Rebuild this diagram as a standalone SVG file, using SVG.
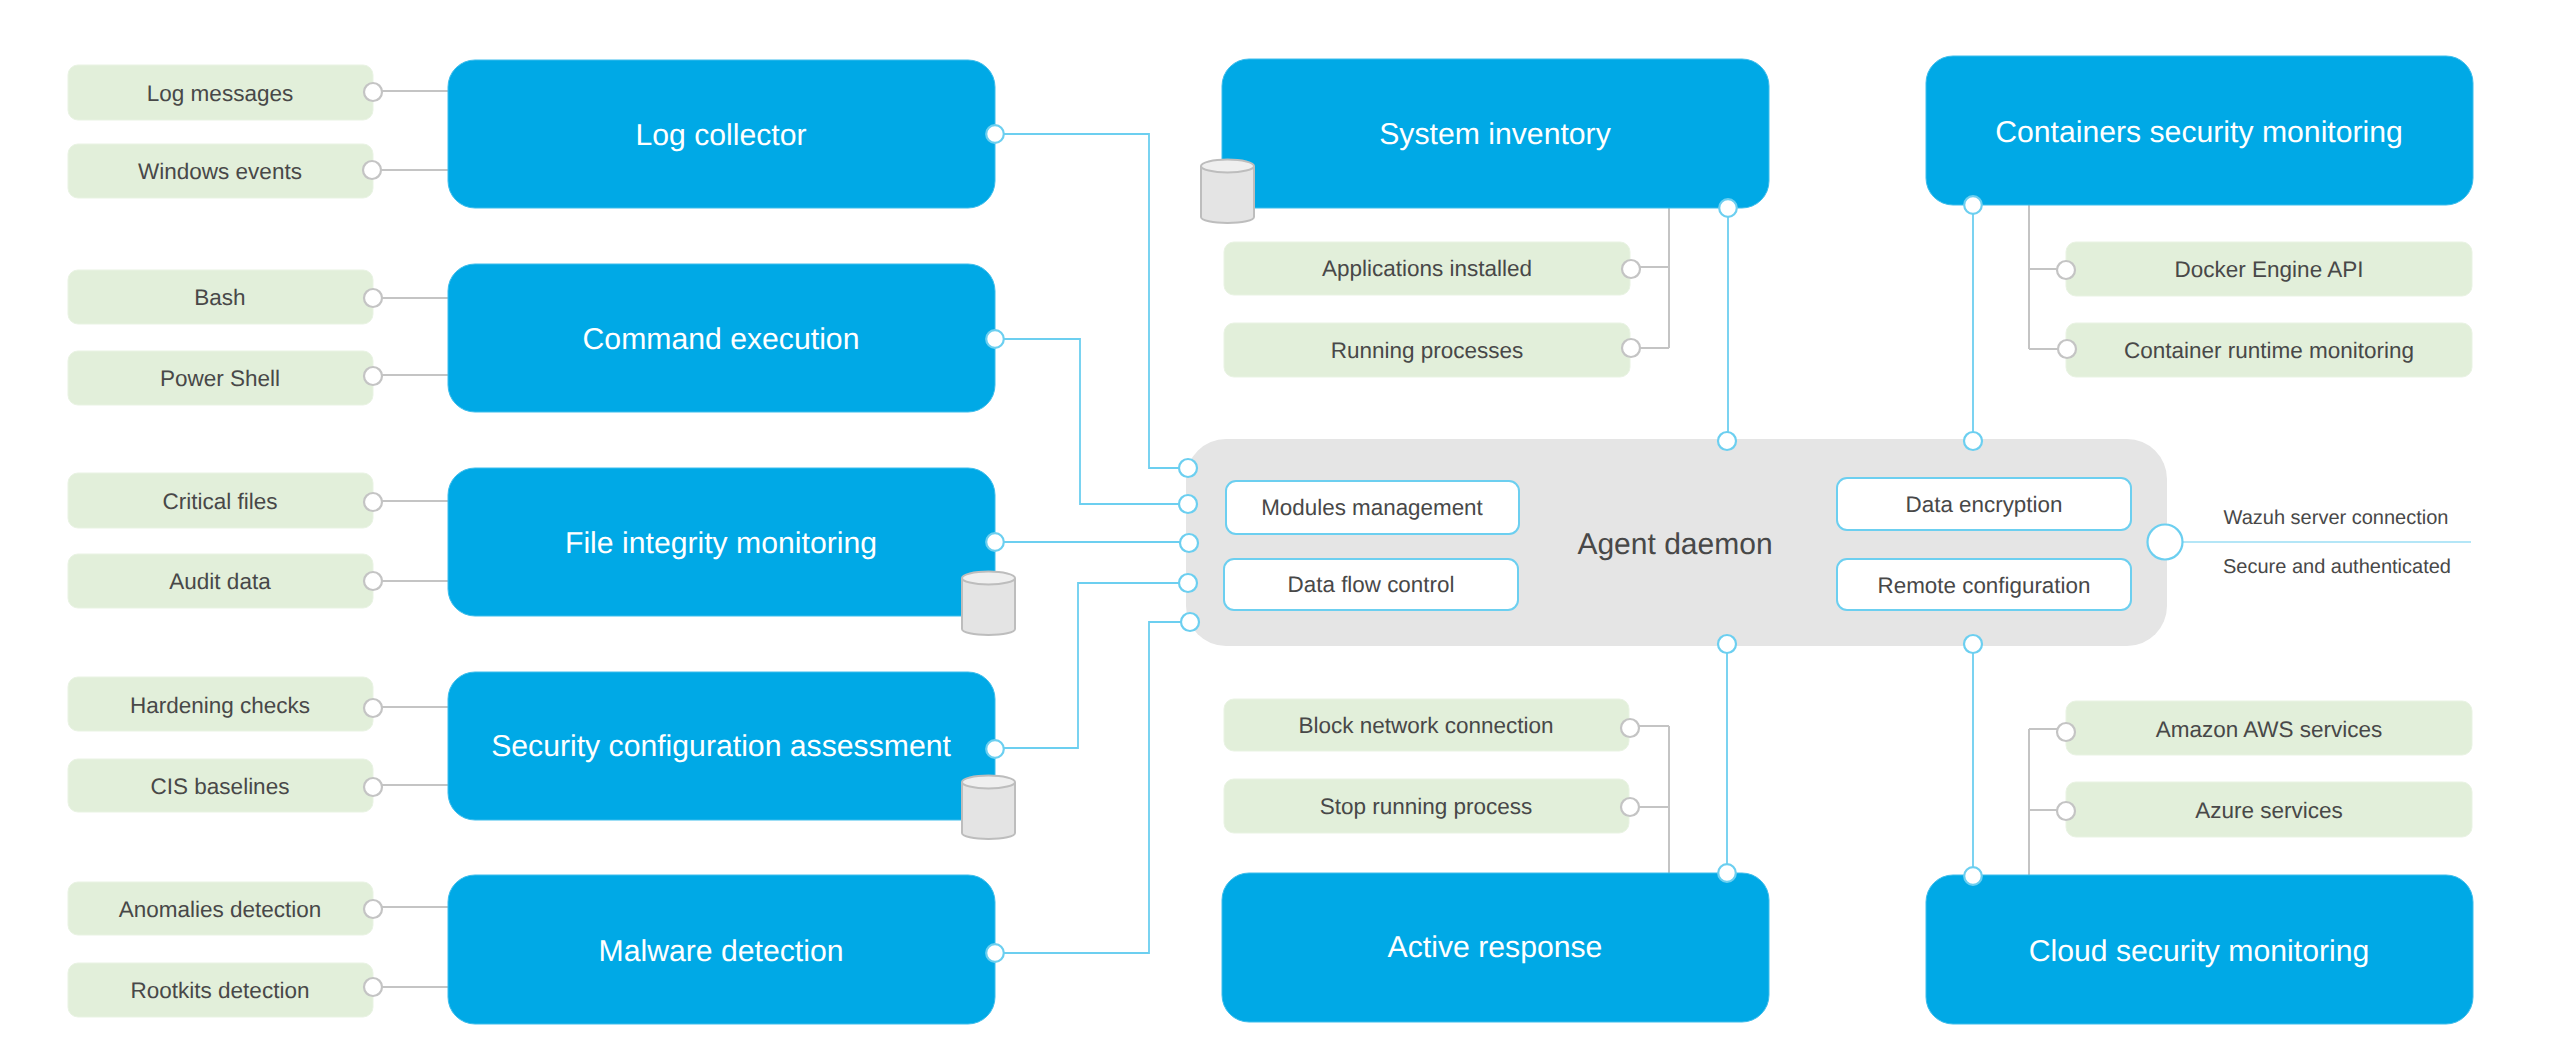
<svg xmlns="http://www.w3.org/2000/svg" width="2553" height="1060" viewBox="0 0 2553 1060">
<style>
text{font-family:"Liberation Sans",Arial,sans-serif;text-anchor:middle;dominant-baseline:central;text-rendering:geometricPrecision}
.m rect{fill:#00a9e6;stroke:#3dbdec;stroke-width:1}
.m text{fill:#fff;font-size:30.2px}
.g rect{fill:#e2efda;stroke:#e9f3e3;stroke-width:1}
.g text{fill:#484848;font-size:22.5px}
.i rect{fill:#fff;stroke:#6ccff0;stroke-width:2}
.i text{fill:#484848;font-size:22.4px}
.p{fill:#fff;stroke:#6ccff0;stroke-width:2.2}
.q{fill:#fff;stroke:#c4c4c4;stroke-width:2.2}
.b{fill:none;stroke:#6ccff0;stroke-width:1.8}
.l{fill:none;stroke:#b4e6f7;stroke-width:2}
.c{fill:none;stroke:#c4c4c4;stroke-width:2}
.n{fill:#484848;font-size:20px}
.cy{fill:#e4e4e4;stroke:#bdbdbd;stroke-width:2}
.ct{fill:#efefef;stroke:#bdbdbd;stroke-width:2}
</style>
<defs>
<g id="cyl"><path class="cy" d="M0 7V58C0 61.500 12 64 26.500 64S53 61.500 53 58V7"/><ellipse class="ct" cx="26.500" cy="7" rx="26.500" ry="6.500"/></g>
</defs>
<g id="connectors">
<path class="b" d="M995 134H1149V468H1189"/>
<path class="b" d="M995 339H1080V504H1189"/>
<path class="b" d="M995 542H1189"/>
<path class="b" d="M995 748H1078V583H1189"/>
<path class="b" d="M995 953H1149V622H1189"/>
<path class="b" d="M1728 208V441"/>
<path class="b" d="M1973 205V441"/>
<path class="b" d="M1727 644V873"/>
<path class="b" d="M1973 644V876"/>
<path class="l" d="M2165 542H2471"/>
<path class="c" d="M373 91H448M373 170H448M373 298H448M373 375H448M373 501H448M373 581H448M373 707H448M373 785H448M373 907H448M373 987H448"/>
<path class="c" d="M1631 267H1669M1631 348H1669M1669 208V348"/>
<path class="c" d="M2029 205V349M2029 269H2066M2029 349H2066"/>
<path class="c" d="M1630 726H1669M1630 807H1669M1669 726V873"/>
<path class="c" d="M2029 729V875M2029 729H2066M2029 810H2066"/>
</g>
<g id="agent-daemon">
<rect x="1186" y="439" width="981" height="207" rx="40" fill="#e5e5e5"/>
<text x="1675" y="544" font-size="30" fill="#484848">Agent daemon</text>
</g>
<g id="modules-management" class="i"><rect x="1226" y="481" width="293" height="53" rx="10"/><text x="1372" y="507">Modules management</text></g>
<g id="data-flow-control" class="i"><rect x="1224" y="559" width="294" height="51" rx="10"/><text x="1371" y="584">Data flow control</text></g>
<g id="data-encryption" class="i"><rect x="1837" y="478" width="294" height="52" rx="10"/><text x="1984" y="504">Data encryption</text></g>
<g id="remote-configuration" class="i"><rect x="1837" y="559" width="294" height="51" rx="10"/><text x="1984" y="585">Remote configuration</text></g>
<g id="log-collector" class="m"><rect x="448" y="60" width="547" height="148" rx="27"/><text x="721" y="135">Log collector</text></g>
<g id="command-execution" class="m"><rect x="448" y="264" width="547" height="148" rx="27"/><text x="721" y="339">Command execution</text></g>
<g id="file-integrity-monitoring" class="m"><rect x="448" y="468" width="547" height="148" rx="27"/><text x="721" y="543">File integrity monitoring</text></g>
<g id="security-configuration-assessment" class="m"><rect x="448" y="672" width="547" height="148" rx="27"/><text x="721" y="746">Security configuration assessment</text></g>
<g id="malware-detection" class="m"><rect x="448" y="875" width="547" height="149" rx="27"/><text x="721" y="951">Malware detection</text></g>
<g id="system-inventory" class="m"><rect x="1222" y="59" width="547" height="149" rx="27"/><text x="1495" y="134">System inventory</text></g>
<g id="active-response" class="m"><rect x="1222" y="873" width="547" height="149" rx="27"/><text x="1495" y="947">Active response</text></g>
<g id="containers-security-monitoring" class="m"><rect x="1926" y="56" width="547" height="149" rx="27"/><text x="2199" y="132">Containers security monitoring</text></g>
<g id="cloud-security-monitoring" class="m"><rect x="1926" y="875" width="547" height="149" rx="27"/><text x="2199" y="951">Cloud security monitoring</text></g>
<g id="db-system"><use href="#cyl" x="1201" y="159"/></g>
<g id="db-file"><use href="#cyl" x="962" y="571"/></g>
<g id="db-security"><use href="#cyl" x="962" y="775"/></g>
<g id="log-messages" class="g"><rect x="68" y="65" width="305" height="55" rx="10"/><text x="220" y="93">Log messages</text></g>
<g id="windows-events" class="g"><rect x="68" y="144" width="305" height="54" rx="10"/><text x="220" y="171">Windows events</text></g>
<g id="bash" class="g"><rect x="68" y="270" width="305" height="54" rx="10"/><text x="220" y="297">Bash</text></g>
<g id="power-shell" class="g"><rect x="68" y="351" width="305" height="54" rx="10"/><text x="220" y="378">Power Shell</text></g>
<g id="critical-files" class="g"><rect x="68" y="473" width="305" height="55" rx="10"/><text x="220" y="501">Critical files</text></g>
<g id="audit-data" class="g"><rect x="68" y="554" width="305" height="54" rx="10"/><text x="220" y="581">Audit data</text></g>
<g id="hardening-checks" class="g"><rect x="68" y="677" width="305" height="54" rx="10"/><text x="220" y="705">Hardening checks</text></g>
<g id="cis-baselines" class="g"><rect x="68" y="759" width="305" height="53" rx="10"/><text x="220" y="786">CIS baselines</text></g>
<g id="anomalies-detection" class="g"><rect x="68" y="882" width="305" height="53" rx="10"/><text x="220" y="909">Anomalies detection</text></g>
<g id="rootkits-detection" class="g"><rect x="68" y="963" width="305" height="54" rx="10"/><text x="220" y="990">Rootkits detection</text></g>
<g id="applications-installed" class="g"><rect x="1224" y="242" width="406" height="53" rx="10"/><text x="1427" y="268">Applications installed</text></g>
<g id="running-processes" class="g"><rect x="1224" y="323" width="406" height="54" rx="10"/><text x="1427" y="350">Running processes</text></g>
<g id="block-network-connection" class="g"><rect x="1224" y="699" width="405" height="52" rx="10"/><text x="1426" y="725">Block network connection</text></g>
<g id="stop-running-process" class="g"><rect x="1224" y="779" width="405" height="54" rx="10"/><text x="1426" y="806">Stop running process</text></g>
<g id="docker-engine-api" class="g"><rect x="2066" y="242" width="406" height="54" rx="10"/><text x="2269" y="269">Docker Engine API</text></g>
<g id="container-runtime-monitoring" class="g"><rect x="2066" y="323" width="406" height="54" rx="10"/><text x="2269" y="350">Container runtime monitoring</text></g>
<g id="amazon-aws-services" class="g"><rect x="2066" y="701" width="406" height="54" rx="10"/><text x="2269" y="729">Amazon AWS services</text></g>
<g id="azure-services" class="g"><rect x="2066" y="782" width="406" height="55" rx="10"/><text x="2269" y="810">Azure services</text></g>
<g id="ports">
<circle class="p" cx="995" cy="134" r="8.800"/><circle class="p" cx="995" cy="339" r="8.800"/><circle class="p" cx="995" cy="542" r="8.800"/><circle class="p" cx="995" cy="749" r="8.800"/><circle class="p" cx="995" cy="953" r="8.800"/>
<circle class="p" cx="1188" cy="468" r="9"/><circle class="p" cx="1188" cy="504" r="9"/><circle class="p" cx="1189" cy="543" r="9"/><circle class="p" cx="1188" cy="583" r="9"/><circle class="p" cx="1190" cy="622" r="9"/>
<circle class="p" cx="1728" cy="208" r="8.800"/><circle class="p" cx="1727" cy="441" r="9"/><circle class="p" cx="1973" cy="205" r="8.800"/><circle class="p" cx="1973" cy="441" r="9"/>
<circle class="p" cx="1727" cy="644" r="9"/><circle class="p" cx="1973" cy="644" r="9"/><circle class="p" cx="1727" cy="873" r="8.800"/><circle class="p" cx="1973" cy="876" r="8.800"/>
<circle class="p" cx="2165" cy="542" r="17.500"/>
<circle class="q" cx="373" cy="92" r="9"/><circle class="q" cx="372" cy="170" r="9"/><circle class="q" cx="373" cy="298" r="9"/><circle class="q" cx="373" cy="376" r="9"/><circle class="q" cx="373" cy="502" r="9"/><circle class="q" cx="373" cy="581" r="9"/><circle class="q" cx="373" cy="708" r="9"/><circle class="q" cx="373" cy="787" r="9"/><circle class="q" cx="373" cy="909" r="9"/><circle class="q" cx="373" cy="987" r="9"/>
<circle class="q" cx="1631" cy="269" r="9"/><circle class="q" cx="1631" cy="348" r="9"/><circle class="q" cx="1630" cy="728" r="9"/><circle class="q" cx="1630" cy="807" r="9"/>
<circle class="q" cx="2066" cy="270" r="9"/><circle class="q" cx="2067" cy="349" r="9"/><circle class="q" cx="2066" cy="732" r="9"/><circle class="q" cx="2066" cy="811" r="9"/>
</g>
<g id="wazuh-labels">
<text class="n" x="2336" y="518">Wazuh server connection</text>
<text class="n" x="2337" y="567">Secure and authenticated</text>
</g>
</svg>
